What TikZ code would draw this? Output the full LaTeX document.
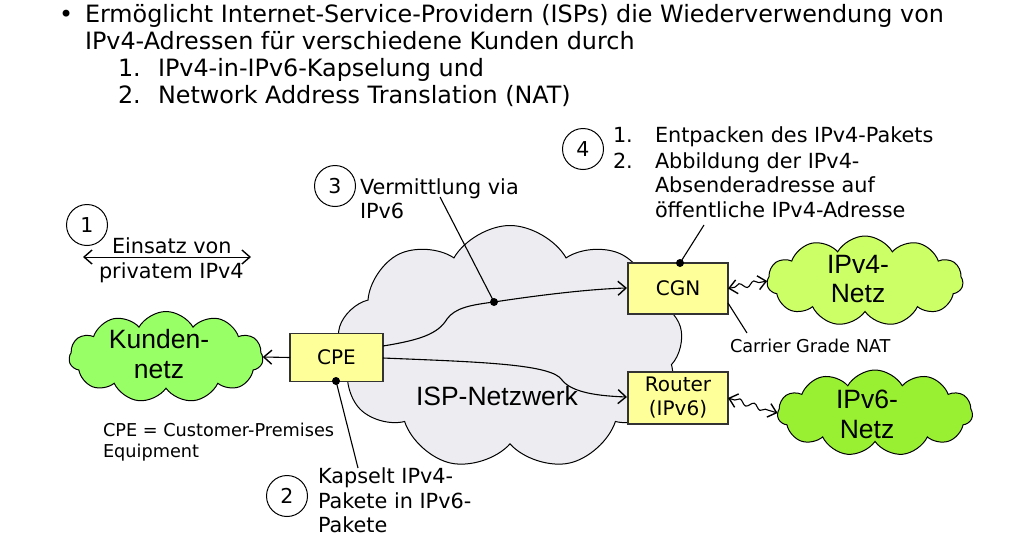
\documentclass[tikz,border=0pt]{standalone}
\usepackage{fontspec}
\setmainfont{DejaVu Sans}
\newfontfamily\cloudfont{Liberation Sans}
\usetikzlibrary{shapes.symbols,arrows.meta,decorations.pathmorphing}
\definecolor{kgreen}{HTML}{99FF66}
\definecolor{vfourgreen}{HTML}{CCFF66}
\definecolor{vsixgreen}{HTML}{99F033}
\definecolor{ispgray}{HTML}{EDECF0}
\definecolor{boxfill}{HTML}{FFFF99}
\definecolor{boxborder}{HTML}{333333}
\begin{document}
\begin{tikzpicture}[x=1pt,y=-1pt,
  every node/.style={inner sep=0pt, outer sep=0pt},
  toptext/.style={anchor=base west, font=\fontsize{23.85}{27}\selectfont},
  calltext/.style={anchor=base west, font=\fontsize{20.8}{24}\selectfont},
  smalltext/.style={anchor=base west, font=\fontsize{17.7}{21}\selectfont},
  cloudtext/.style={anchor=base, font=\cloudfont\fontsize{26.5}{30}\selectfont},
  numcircle/.style={circle, draw, line width=1pt, minimum size=41pt, font=\fontsize{20.5}{24}\selectfont},
  devbox/.style={draw=boxborder, fill=boxfill, line width=1.5pt, font=\fontsize{20}{24}\selectfont, align=center},
  conn/.style={line width=1.1pt},
  barb/.tip={Straight Barb[length=8pt,width=14pt,line width=1.4pt]},
  arr/.style={-barb},
  dblarr/.style={barb-barb},
  wavy/.style={decorate, decoration={snake, amplitude=2.6pt, segment length=15pt, pre length=7pt, post length=7pt}},
  dotmark/.style={circle, fill=black, minimum size=8pt},
  netcloud/.style={cloud, draw, line width=1pt, inner sep=0pt, cloud ignores aspect},
]
\useasboundingbox[fill=white] (0,0) rectangle (1019,541);

% top text
\node[toptext] (bul) at (59,22) {•};
\node[toptext] (l1) at (85,22) {Ermöglicht Internet-Service-Providern (ISPs) die Wiederverwendung von};
\node[toptext] (l2) at (85,49) {IPv4-Adressen für verschiedene Kunden durch};
\node[toptext] (l3n) at (118,76) {1.};
\node[toptext] (l3) at (158,76) {IPv4-in-IPv6-Kapselung und};
\node[toptext] (l4n) at (118,103) {2.};
\node[toptext] (l4) at (158,103) {Network Address Translation (NAT)};

% clouds
\node[netcloud, fill=ispgray, cloud puffs=9, cloud puff arc=120, minimum width=346pt, minimum height=245pt] (isp) at (510,348) {};
\node[cloudtext] (isplbl) at (497,405) {ISP-Netzwerk};

\node[netcloud, fill=kgreen, cloud puffs=11, cloud puff arc=120, minimum width=194pt, minimum height=91pt] (kunden) at (166,357) {};
\node[cloudtext] (kl1) at (159,348) {Kunden-};
\node[cloudtext] (kl2) at (159,378) {netz};

\node[netcloud, fill=vfourgreen, cloud puffs=11, cloud puff arc=120, minimum width=196pt, minimum height=90pt] (vfour) at (865,281) {};
\node[cloudtext] (v4l1) at (858,273) {IPv4-};
\node[cloudtext] (v4l2) at (858,302) {Netz};

\node[netcloud, fill=vsixgreen, cloud puffs=11, cloud puff arc=120, minimum width=195pt, minimum height=86pt] (vsix) at (875,413) {};
\node[cloudtext] (v6l1) at (867,408) {IPv6-};
\node[cloudtext] (v6l2) at (867,438) {Netz};

% devices
\node[devbox, minimum width=93pt, minimum height=48pt] (cpe) at (336.5,357.5) {CPE};
\node[devbox, minimum width=100pt, minimum height=51pt] (cgn) at (678,288.5) {CGN};
\node[devbox, minimum width=100pt, minimum height=52pt] (router) at (678,398) {Router\\(IPv6)};

% connection points
\coordinate (cpeup) at (383,346);
\coordinate (cpelow) at (383,358);
\coordinate (bend1) at (447,319);
\coordinate (vdot) at (494,302);
\coordinate (bend2) at (562,380);
\coordinate (cgnin) at (627,288);
\coordinate (routerin) at (627,397);
\coordinate (cpedot) at (336,381);
\coordinate (cgndot) at (680,263);
\coordinate (cgnside) at (728,303);

% curves through ISP network
\draw[conn, arr] (cpeup) .. controls (420,340) and (438,334) .. (bend1)
  .. controls (455,308) and (470,305) .. (vdot)
  .. controls (540,295) and (590,289) .. (cgnin);
\draw[conn, arr] (cpelow) .. controls (480,362) and (552,364) .. (bend2)
  .. controls (572,393) and (600,396) .. (routerin);

% CPE to Kundennetz
\draw[conn, arr] (cpe.west) -- (kunden.east);

% wavy arrows
\draw[conn, dblarr, wavy] (cgn.east) -- (vfour.west);
\draw[conn, dblarr, wavy] (router.east) -- (vsix.west);

% dots
\node[dotmark] (d1) at (vdot) {};
\node[dotmark] (d2) at (cpedot) {};
\node[dotmark] (d3) at (cgndot) {};

% callout 1
\node[numcircle] (c1) at (87,225) {1};
\node[calltext] (e1) at (112,253) {Einsatz von};
\node[calltext] (e2) at (99,278) {privatem IPv4};
\coordinate (a1l) at (83,257);
\coordinate (a1r) at (251,257);
\draw[conn, dblarr, line width=0.9pt] (a1l) -- (a1r);

% callout 2
\node[numcircle] (c2) at (287,496) {2};
\node[calltext] (k1) at (318,483) {Kapselt IPv4-};
\node[calltext] (k2) at (318,508) {Pakete in IPv6-};
\node[calltext] (k3) at (318,532) {Pakete};
\coordinate (kend) at (358,468);
\draw[conn] (d2.center) -- (kend);

% callout 3
\node[numcircle] (c3) at (335,186) {3};
\node[calltext] (m1) at (360,194) {Vermittlung via};
\node[calltext] (m2) at (360,218) {IPv6};
\coordinate (mend) at (440,197);
\draw[conn] (d1.center) -- (mend);

% callout 4
\node[numcircle] (c4) at (583,149) {4};
\node[calltext] (n1n) at (613,142) {1.};
\node[calltext] (n1) at (655,142) {Entpacken des IPv4-Pakets};
\node[calltext] (n2n) at (613,168) {2.};
\node[calltext] (n2) at (655,168) {Abbildung der IPv4-};
\node[calltext] (n3) at (655,192) {Absenderadresse auf};
\node[calltext] (n4) at (655,217) {öffentliche IPv4-Adresse};
\coordinate (nend) at (704,225);
\draw[conn] (d3.center) -- (nend);

% small labels
\node[smalltext] (cpe1) at (103,436) {CPE = Customer-Premises};
\node[smalltext] (cpe2) at (103,457) {Equipment};
\node[smalltext] (cgnl) at (730,352) {Carrier Grade NAT};
\coordinate (cgnlend) at (747,333);
\draw[conn] (cgnside) -- (cgnlend);
\end{tikzpicture}
\end{document}
